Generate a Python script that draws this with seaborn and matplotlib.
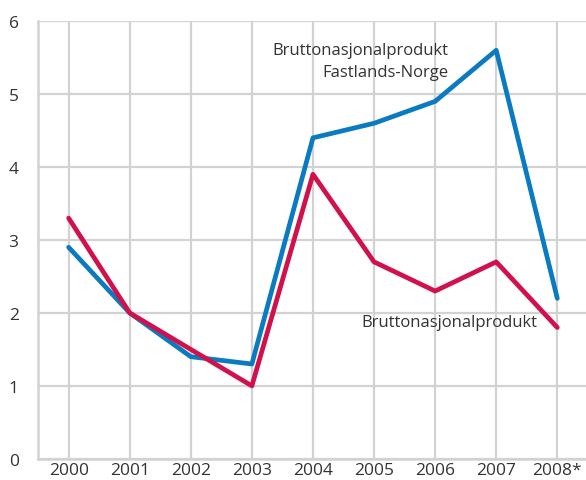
import matplotlib
matplotlib.use("Agg")
import matplotlib.pyplot as plt
import seaborn as sns
import pandas as pd

# data
years = [2000, 2001, 2002, 2003, 2004, 2005, 2006, 2007, 2008]
year_labels = ["2000", "2001", "2002", "2003", "2004", "2005", "2006", "2007", "2008*"]
fastland = [2.9, 2.0, 1.4, 1.3, 4.4, 4.6, 4.9, 5.6, 2.2]
bnp = [3.3, 2.0, 1.5, 1.0, 3.9, 2.7, 2.3, 2.7, 1.8]

df = pd.DataFrame({
    "year": years * 2,
    "value": fastland + bnp,
    "series": ["Fastlands-Norge"] * len(years) + ["BNP"] * len(years),
})

sns.set_style("white")
plt.rcParams["font.family"] = ["Open Sans", "DejaVu Sans"]
grid_col = "#d2d2d2"
text_col = "#333333"

fig = plt.figure(figsize=(5.86, 4.81), dpi=100)
ax = fig.add_axes([0.065, 0.044, 0.935, 0.91])

sns.lineplot(data=df, x="year", y="value", hue="series",
             palette={"Fastlands-Norge": "#0a7bc1", "BNP": "#d1114b"},
             linewidth=3.4, legend=False, ax=ax, zorder=3)

ax.set_xlim(1999.5, 2008.47)
ax.set_ylim(0, 6)
ax.set_xticks(years)
ax.set_xticklabels(year_labels)
ax.set_yticks(range(0, 7))
ax.grid(True, color=grid_col, linewidth=1.6)
ax.set_axisbelow(True)
for s in ["top", "right"]:
    ax.spines[s].set_visible(False)
for s in ["left", "bottom"]:
    ax.spines[s].set_color(grid_col)
    ax.spines[s].set_linewidth(1.8)
ax.tick_params(length=0, labelsize=12.5, colors=text_col)
ax.tick_params(axis="x", pad=2)
ax.tick_params(axis="y", pad=14)
ax.set_xlabel("")
ax.set_ylabel("")

ax.text(2006.22, 5.45, "Bruttonasjonalprodukt\nFastlands-Norge", ha="right",
        va="center", fontsize=12, color=text_col, linespacing=1.5)
ax.text(2007.68, 1.88, "Bruttonasjonalprodukt", ha="right", va="center",
        fontsize=12, color=text_col)

fig.savefig("out.png", dpi=100)
